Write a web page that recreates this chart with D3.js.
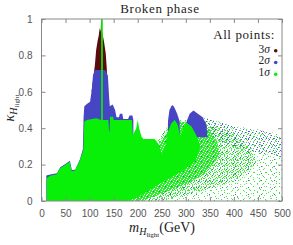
<!DOCTYPE html>
<meta charset="utf-8">
<head>
  <title>Broken phase</title>
</head>
<style>
body { margin: 0; background: #fff; }
.tick-lab { font-family: "Liberation Sans", Helvetica, sans-serif; font-size: 10px; fill: #555; }
.serif { font-family: "Liberation Serif", "DejaVu Serif", serif; fill: #222; }
</style>
<body>
<svg id="chart" width="293" height="245"></svg>
<script src="https://cdnjs.cloudflare.com/ajax/libs/d3/7.8.5/d3.min.js"></script>
<script>
// axis ticks
var xTicks = [0, 50, 100, 150, 200, 250, 300, 350, 400, 450, 500];
var yTicks = [0, 0.2, 0.4, 0.6, 0.8, 1];

// legend
var legendLabels = ["3σ", "2σ", "1σ"];
var legendColors = ["#5a0c0c", "#4646c4", "#08f008"];

// 3 sigma points (dark red), outline of the dense cloud
var red3 = [[104,0.6],[111,0.747],[113.6,0.83],[117,0.885],[119,0.91],[121,0.95],[123,0.93],[124,1.0],
  [125,1.0],[126,0.93],[130,0.875],[133.6,0.81],[135.7,0.73],[137,0.6]];

// 2 sigma points (blue)
var blue2 = [[10,0],[10,0.14],[18,0.145],[32,0.152],[39,0.186],[52,0.208],[59,0.221],[63,0.17],[70,0.172],
  [80,0.23],[86,0.285],[87.5,0.46],[89,0.52],[95,0.535],[101,0.545],[105,0.62],[107,0.69],[111,0.72],
  [132,0.72],[138,0.69],[140.7,0.565],[142,0.52],[148,0.53],[153,0.5],[156,0.46],[161,0.46],[163,0.48],
  [168,0.48],[170,0.45],[180,0.45],[183,0.47],[189,0.47],[191,0.445],[191,0.1],[180,0]];
var blueBlob1 = [[262,0.3],[263,0.44],[266,0.5],[270,0.52],[273,0.527],[277,0.51],[282,0.48],[287,0.44],[288,0.3]];
var blueBlob2 = [[300,0.35],[302,0.44],[308,0.48],[316,0.497],[325,0.48],[335,0.46],[343,0.42],[345,0.35]];
var blueFringe = [[335,0.46],[371,0.436],[413,0.40],[454,0.39],[496,0.355],[500,0.35],[500,0.24],[420,0.28],[340,0.36]];

// 1 sigma points (green), dense core
var green1 = [[10.7,0],[10.7,0.125],[17.6,0.139],[31.5,0.147],[38.5,0.18],[52,0.203],[59,0.216],[62.7,0.163],
  [69.6,0.167],[80,0.225],[87,0.28],[89,0.436],[94,0.445],[114,0.454],[124,0.445],[124,1.0],[127.5,1.0],
  [127.5,0.445],[139,0.445],[140.5,0.38],[141.5,0.38],[142.5,0.463],[149,0.463],[150,0.445],[166,0.445],
  [188,0.445],[190,0.363],[197,0.40],[200,0.445],[203,0.40],[208,0.353],[212,0.34],[235,0.34],[244,0.31],
  [250,0.253],[257,0.30],[263,0.38],[270,0.427],[277,0.445],[283,0.42],[288,0.36],[295,0.40],[302,0.43],
  [312,0.41],[322,0.36],[330,0.30],[320,0.22],[290,0.16],[255,0.11],[225,0.06],[200,0.02],[180,0]];
// 1 sigma, fairly dense cloud around the core
var green1dense = [[275,0.44],[305,0.43],[330,0.41],[350,0.39],[365,0.33],[370,0.25],[340,0.15],
  [300,0.09],[250,0.04],[210,0],[170,0]];
// 1 sigma, thinner cloud
var green1mid = [[270,0.44],[320,0.43],[360,0.41],[400,0.37],[430,0.3],[450,0.22],[420,0.14],[380,0.09],
  [300,0.03],[250,0],[150,0]];
// sparse tail of all points
var sparseTail = [[140,0],[200,0.05],[250,0.2],[275,0.44],[300,0.45],[330,0.46],[360,0.44],[400,0.41],
  [440,0.40],[470,0.38],[500,0.37],[500,0]];

var svg = d3.select("#chart");
var margin = {left: 41.5, right: 11, top: 19, bottom: 44};
var width = 293 - margin.left - margin.right,
    height = 245 - margin.top - margin.bottom;

var x = d3.scaleLinear().domain([0, 500]).range([margin.left, margin.left + width]);
var y = d3.scaleLinear().domain([0, 1]).range([margin.top + height, margin.top]);

var poly = d3.line()
  .x(function(d) { return x(d[0]); })
  .y(function(d) { return y(d[1]); });

// dot textures for the scattered parts of the cloud (styling only).
// two tiles of different size are stacked so the grid does not show.
var defs = svg.append("defs");
var G = "#2cf02c", G2 = "#80e880", B = "#5a5ad0", B2 = "#9090e0";
function dotPattern(id, w, h, dots, bg) {
  var p = defs.append("pattern").attr("id", id)
    .attr("patternUnits", "userSpaceOnUse").attr("width", w).attr("height", h);
  if (bg) p.append("rect").attr("width", w).attr("height", h).attr("fill", bg);
  dots.forEach(function(d) {
    p.append("rect").attr("x", d[0]).attr("y", d[1]).attr("width", 1).attr("height", 1).attr("fill", d[2]);
  });
}
dotPattern("sparseA", 11, 9, [[1,1,G],[7,0,G],[9,4,G2],[4,3,G],[0,6,G2],[6,7,B2]]);
dotPattern("sparseB", 13, 7, [[3,1,G],[10,2,G2],[6,4,G],[1,5,B],[12,6,G]]);
dotPattern("midA", 7, 6, [[0,0,G],[3,0,G],[5,1,G],[1,2,G],[4,2,G],[6,3,G],[2,3,G],[0,4,G],[5,4,G],[3,5,G],[2,1,B]]);
dotPattern("dense", 6, 5, [[2,0,"#fff"],[5,1,"#fff"],[1,2,"#fff"],[4,3,"#fff"],[0,4,"#fff"],[3,4,"#fff"],[3,1,B]], G);
dotPattern("blueA", 7, 6, [[0,0,B],[3,1,B],[5,3,B],[1,4,B2],[4,5,B],[2,2,G],[6,1,G2]]);

var plot = svg.append("g");
function layer(pts, fill) {
  plot.append("path").attr("d", poly(pts) + "Z").attr("fill", fill);
}
layer(sparseTail, "url(#sparseA)");
layer(sparseTail, "url(#sparseB)");
layer(blueFringe, "url(#blueA)");
layer(blueFringe, "url(#sparseB)");
layer(green1mid, "url(#midA)");
layer(green1mid, "url(#sparseB)");
layer(green1dense, "url(#dense)");
layer(red3, legendColors[0]);
layer(blue2, legendColors[1]);
layer(blueBlob1, legendColors[1]);
layer(blueBlob2, legendColors[1]);
layer(green1, legendColors[2]);

// frame + inward ticks on all sides
var axisColor = "#888";
function styleAxis(g) {
  g.select(".domain").remove();
  g.selectAll(".tick line").attr("stroke", axisColor);
  g.selectAll(".tick text").attr("class", "tick-lab").attr("fill", null);
}
svg.append("g").attr("transform", "translate(0," + y(0) + ")")
  .call(d3.axisBottom(x).tickValues(xTicks).tickSize(-4).tickPadding(9).tickFormat(d3.format("d")))
  .call(styleAxis);
svg.append("g").attr("transform", "translate(0," + y(1) + ")")
  .call(d3.axisTop(x).tickValues(xTicks).tickSize(-4).tickFormat(""))
  .call(styleAxis);
svg.append("g").attr("transform", "translate(" + x(0) + ",0)")
  .call(d3.axisLeft(y).tickValues(yTicks).tickSize(-4).tickPadding(9).tickFormat(function(d) { return d === 0 || d === 1 ? d : d3.format(".1f")(d); }))
  .call(styleAxis);
svg.append("g").attr("transform", "translate(" + x(500) + ",0)")
  .call(d3.axisRight(y).tickValues(yTicks).tickSize(-4).tickFormat(""))
  .call(styleAxis);
svg.append("rect").attr("x", x(0)).attr("y", y(1)).attr("width", width).attr("height", height)
  .attr("fill", "none").attr("stroke", axisColor);

// title
svg.append("text").attr("class", "serif").attr("x", 160).attr("y", 13)
  .attr("text-anchor", "middle").style("font-size", "13px").style("letter-spacing", "0.7px")
  .text("Broken phase");

// legend
var lg = svg.append("g");
lg.append("text").attr("class", "serif").attr("x", 275).attr("y", 39)
  .attr("text-anchor", "end").style("font-size", "13px").style("letter-spacing", "0.6px").text("All points:");
legendLabels.forEach(function(l, i) {
  var yy = 52.5 + i * 11.7;
  lg.append("text").attr("class", "serif").attr("x", 270).attr("y", yy)
    .attr("text-anchor", "end").style("font-size", "11.5px")
    .html(l.slice(0, 1) + '<tspan font-style="italic">σ</tspan>');
  lg.append("circle").attr("cx", 275.7).attr("cy", yy - 1.7).attr("r", 1.8).attr("fill", legendColors[i]);
});

// axis labels
var xl = svg.append("text").attr("class", "serif").attr("x", 162).attr("y", 232)
  .attr("text-anchor", "middle").style("font-size", "14px");
xl.append("tspan").attr("font-style", "italic").text("m");
xl.append("tspan").attr("font-style", "italic").attr("dy", 2.5).style("font-size", "10px").text("H");
xl.append("tspan").attr("dy", 2).style("font-size", "7px").text("light");
xl.append("tspan").attr("dy", -4.5).text("(GeV)");

var yl = svg.append("text").attr("class", "serif")
  .attr("transform", "translate(14,108) rotate(-90)")
  .attr("text-anchor", "middle").style("font-size", "14px");
yl.append("tspan").attr("font-style", "italic").text("κ");
yl.append("tspan").attr("font-style", "italic").attr("dy", 2.5).style("font-size", "10px").text("H");
yl.append("tspan").attr("dy", 2).style("font-size", "7px").text("light");
</script>
</body>
</html>
